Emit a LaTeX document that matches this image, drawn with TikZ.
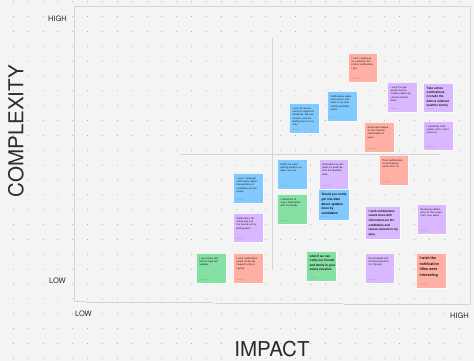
\documentclass[tikz,border=0pt]{standalone}
\usepackage{fontspec}
\setmainfont{TeX Gyre Heros}
\definecolor{bgc}{HTML}{F4F4F4}
\definecolor{dotc}{HTML}{A0A0A0}
\definecolor{framec}{HTML}{D4D4D4}
\definecolor{labc}{HTML}{2B2B2B}
\definecolor{sred}{HTML}{FFAFA3}
\definecolor{sblue}{HTML}{80CAFF}
\definecolor{spurple}{HTML}{D9B8FF}
\definecolor{sgreen}{HTML}{85E0A3}
\tikzset{
  stickybox/.style={anchor=north west, inner sep=0pt, line width=0.6pt, draw=white, draw opacity=0.8},
  sred/.style={stickybox, fill=sred},
  sblue/.style={stickybox, fill=sblue},
  spurple/.style={stickybox, fill=spurple},
  sgreen/.style={stickybox, fill=sgreen},
  smalltxt/.style={anchor=north west, inner sep=0pt, align=left, text width=22pt,
    font=\fontsize{2.5}{3.2}\selectfont, text=black!85, xshift=3.5pt, yshift=-4.5pt},
  boldtxt/.style={anchor=north west, inner sep=0pt, align=left,
    text=black!90, xshift=3.5pt, yshift=-4pt},
  author/.style={anchor=south west, inner sep=0pt, font=\fontsize{1.8}{2}\selectfont,
    text=black!45, xshift=3.5pt, yshift=3pt},
  axlab/.style={font=\fontsize{7.5}{8}\selectfont, text=labc, inner sep=0pt},
  axtitle/.style={font=\fontsize{20.5}{22}\selectfont, text=labc, inner sep=0pt},
  frameline/.style={draw=framec, line width=0.8pt}
}
\begin{document}
\begin{tikzpicture}[x=1pt,y=-1pt]
\fill[bgc] (0,0) rectangle (474,361);
\useasboundingbox (0,0) rectangle (474,361);
% dot grid
\foreach \i in {0,...,30}{\foreach \j in {0,...,24}{
  \fill[dotc] (13.3+\i*14.86, 1.7+\j*14.86) circle (0.5pt);}}
% frame
\draw[frameline] (85,301.7) -- (74,301.7) -- (74,6) -- (470,6) -- (470,304.3) -- (344,304.3);
\draw[frameline] (86,302.7) -- (213,302.7);
\draw[frameline] (215,303.3) -- (343,303.3);
% quadrant lines
\draw[frameline] (272,38) -- (272,270);
\draw[frameline] (180,154.3) -- (440,154.3);
% axis labels
\node[axlab] (hy) at (57.5,19) {HIGH};
\node[axlab] (ly) at (57.5,280.7) {LOW};
\node[axlab] (lx) at (83.5,314) {LOW};
\node[axlab] (hx) at (459.5,315.7) {HIGH};
\node[axtitle] (impact) at (272,349) {IMPACT};
\node[axtitle, rotate=90] (complexity) at (16,131) {COMPLEXITY};
% stickies
\node[sred, minimum width=29pt, minimum height=29pt] (s1) at (348,53) {};
\node[smalltxt] at (s1.north west) {I wish I could easily customize the kind of notifications I get};
\node[author] at (s1.south west) {Ana Ruiz};

\node[spurple, minimum width=30pt, minimum height=30pt] (s2) at (387,82) {};
\node[smalltxt] at (s2.north west) {I wish the app would send reminders about upcoming election dates};
\node[author] at (s2.south west) {Sam Lee};

\node[spurple, minimum width=30pt, minimum height=29pt] (s3) at (423,83) {};
\node[boldtxt, font=\bfseries\fontsize{3}{4.2}\selectfont] at (s3.north west) {Take action\\notifications\\(include the\\data to ambient\\weather alerts)};
\node[author] at (s3.south west) {Sam Lee};

\node[sblue, minimum width=30pt, minimum height=30pt] (s4) at (327,91) {};
\node[smalltxt] at (s4.north west) {Notifications about local events and news in my community would be useful};
\node[author] at (s4.south west) {Kim Tran};

\node[sblue, minimum width=30pt, minimum height=30pt] (s5) at (289,103) {};
\node[smalltxt] at (s5.north west) {I want to receive alerts on important deadlines, like registration, and the polling hours in my area};
\node[author] at (s5.south west) {Kim Tran};

\node[sred, minimum width=30pt, minimum height=30pt] (s6) at (364,122) {};
\node[smalltxt] at (s6.north west) {Send alerts based on the interests and location of users};
\node[author] at (s6.south west) {Ana Ruiz};

\node[spurple, minimum width=30pt, minimum height=29pt] (s7) at (423,121) {};
\node[smalltxt] at (s7.north west) {I would like notifications with a short summary};
\node[author] at (s7.south west) {Sam Lee};

\node[sred, minimum width=29pt, minimum height=30pt] (s8) at (379,155) {};
\node[smalltxt] at (s8.north west) {Push notifications on emergency alerts near me};
\node[author] at (s8.south west) {Ana Ruiz};

\node[sblue, minimum width=30pt, minimum height=30pt] (s11) at (277,159) {};
\node[smalltxt] at (s11.north west) {Notify me when polling stations are open near me};
\node[author] at (s11.south west) {Kim Tran};

\node[spurple, minimum width=29pt, minimum height=30pt] (s12) at (319,159) {};
\node[smalltxt] at (s12.north west) {Reminders to complete my ballot before the deadline date};
\node[author] at (s12.south west) {Sam Lee};

\node[sblue, minimum width=30pt, minimum height=30pt] (s10) at (233,173) {};
\node[smalltxt] at (s10.north west) {I wish I could get notifications about the positions of candidates on key issues};
\node[author] at (s10.south west) {Kim Tran};

\node[sgreen, minimum width=30pt, minimum height=30pt] (s13) at (277,194) {};
\node[smalltxt] at (s13.north west) {I would like to share notifications with my friends};
\node[author] at (s13.south west) {Joe Park};

\node[sblue, minimum width=31pt, minimum height=31pt] (s14) at (318,189) {};
\node[boldtxt, font=\bfseries\fontsize{3.1}{4.8}\selectfont] at (s14.north west) {Would you notify\\get info data\\about updates\\done by\\candidates};
\node[author] at (s14.south west) {Kim Tran};

\node[spurple, minimum width=30pt, minimum height=29pt] (s15) at (233,213) {};
\node[smalltxt] at (s15.north west) {Notifications for voting day and the location of my polling place};
\node[author] at (s15.south west) {Sam Lee};

\node[spurple, minimum width=35pt, minimum height=33pt] (s16) at (365,206) {};
\node[boldtxt, font=\bfseries\fontsize{2.9}{4.6}\selectfont] at (s16.north west) {I wish notifications\\would come with\\information on the\\candidates and\\issues relevant to my\\area};
\node[author] at (s16.south west) {Sam Lee};

\node[spurple, minimum width=29pt, minimum height=30pt] (s17) at (417,204) {};
\node[smalltxt] at (s17.north west) {Receiving notifications on the issues that I care about};
\node[author] at (s17.south west) {Sam Lee};

\node[sgreen, minimum width=30pt, minimum height=30pt] (s20) at (196,253) {};
\node[smalltxt] at (s20.north west) {I want to be notified of important updates};
\node[author] at (s20.south west) {Joe Park};

\node[sred, minimum width=30pt, minimum height=30pt] (s21) at (233,253) {};
\node[smalltxt] at (s21.north west) {I wish notifications would not be too frequent and annoying};
\node[author] at (s21.south west) {Ana Ruiz};

\node[sgreen, minimum width=30pt, minimum height=30pt] (s22) at (306,251) {};
\node[boldtxt, font=\bfseries\fontsize{3}{4.4}\selectfont] at (s22.north west) {what if we can\\notify our friends\\and family in your\\safety situation};
\node[author] at (s22.south west) {Joe Park};

\node[spurple, minimum width=29pt, minimum height=30pt] (s18) at (365,253) {};
\node[smalltxt] at (s18.north west) {Personalized notifications based on my interests};
\node[author] at (s18.south west) {Sam Lee};

\node[sred, minimum width=30pt, minimum height=35pt] (s19) at (416,253) {};
\node[boldtxt, font=\bfseries\fontsize{3.6}{5.4}\selectfont] at (s19.north west) {I wish the\\notification\\titles were\\interesting};
\node[author] at (s19.south west) {Ana Ruiz};
\end{tikzpicture}
\end{document}
